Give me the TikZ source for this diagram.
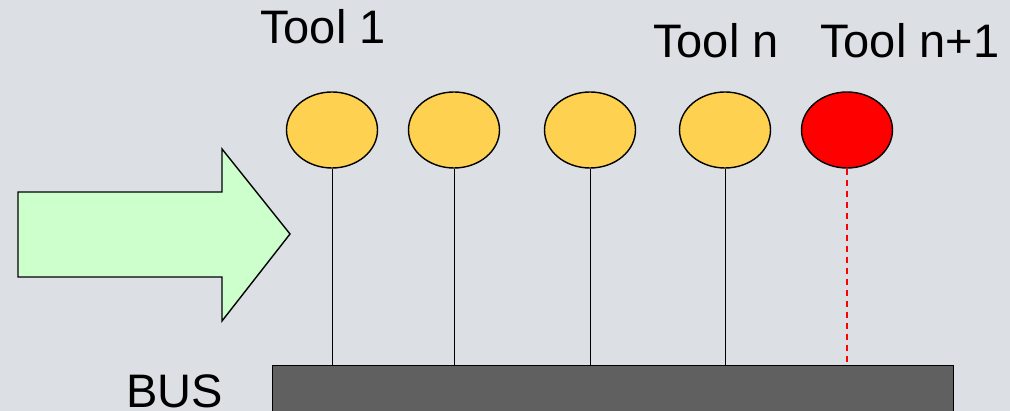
\documentclass[tikz,border=0pt]{standalone}
\usepackage{fontspec}
\setmainfont{Liberation Sans}
\usetikzlibrary{shapes.geometric}
\definecolor{bg}{RGB}{220,224,228}
\definecolor{arrowgreen}{RGB}{204,255,204}
\definecolor{toolyellow}{RGB}{254,210,80}
\definecolor{busgray}{RGB}{96,96,96}
\begin{document}
\begin{tikzpicture}[x=1pt,y=-1pt,
  tool/.style={ellipse,draw=black,line width=1.4pt,fill=toolyellow,minimum width=91pt,minimum height=76pt,inner sep=0pt},
  newtool/.style={tool,fill=red},
  lbl/.style={inner sep=0pt,anchor=base west,font=\fontsize{47}{50}\selectfont},
  stem/.style={draw=black,line width=1pt},
  newstem/.style={draw=red,line width=1.4pt,dash pattern=on 6pt off 5pt}]
\useasboundingbox[fill=bg] (0,0) rectangle (1010,411);
% arrow
\draw[fill=arrowgreen,line width=1.4pt,line join=miter] (18,192) -- (222,192) -- (222,149) -- (290,234) -- (222,321) -- (222,277) -- (18,277) -- cycle;
% bus
\node[draw=black,line width=1.4pt,fill=busgray,minimum width=681pt,minimum height=70pt,inner sep=0pt,anchor=north west] (bus) at (272,365) {};
% tools
\node[tool] (t1) at (332,130) {};
\node[tool] (t2) at (454,130) {};
\node[tool] (t3) at (590,130) {};
\node[tool] (t4) at (725,130) {};
\node[newtool] (t5) at (847,130) {};
\draw[stem] (t1.south) -- (t1.south |- bus.north);
\draw[stem] (t2.south) -- (t2.south |- bus.north);
\draw[stem] (t3.south) -- (t3.south |- bus.north);
\draw[stem] (t4.south) -- (t4.south |- bus.north);
\draw[newstem] (t5.south) -- (t5.south |- bus.north);
% labels
\node[lbl] (l1) at (260,44) {Tool 1};
\node[lbl] (ln) at (653,58) {Tool n};
\node[lbl] (ln1) at (820,58) {Tool n+1};
\node[lbl] (lbus) at (126,408) {BUS};
\end{tikzpicture}
\end{document}
